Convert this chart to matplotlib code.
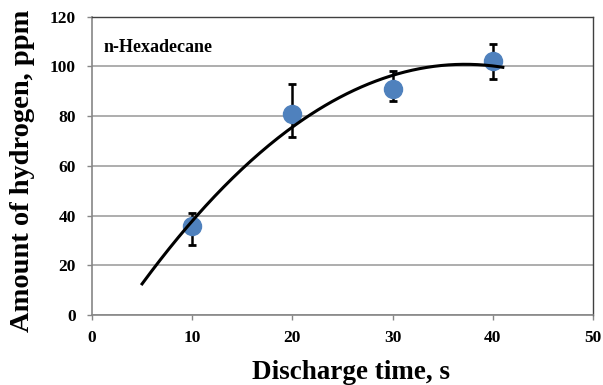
import numpy as np
import matplotlib
matplotlib.use('Agg')
import matplotlib.pyplot as plt

# data
time_s = [10, 20, 30, 40]
hydrogen_ppm = [36, 81, 91, 102]
err_low = [8, 9.5, 5, 7]
err_high = [5, 12, 7, 7]

x_ticks = [0, 10, 20, 30, 40, 50]
y_ticks = [0, 20, 40, 60, 80, 100, 120]

plt.rcParams['font.family'] = ['Liberation Serif', 'DejaVu Serif']
plt.rcParams['font.weight'] = 'bold'

fig = plt.figure(figsize=(6.03, 3.85), dpi=100)
ax = fig.add_axes([92 / 603, 70 / 385, 501 / 603, 298.3 / 385])

# second order polynomial trendline, as in the spreadsheet
coef = np.polyfit(time_s, hydrogen_ppm, 2)
xs = np.linspace(5, 41, 200)
ax.plot(xs, np.polyval(coef, xs), color='black', lw=2.2, zorder=4)

ax.errorbar(time_s, hydrogen_ppm, yerr=[err_low, err_high], fmt='o',
            color='#4F81BD', ms=13, ecolor='black', elinewidth=1.8,
            capsize=3, capthick=2, zorder=3)

ax.set_xlim(0, 50)
ax.set_ylim(0, 120)
ax.set_xticks(x_ticks)
ax.set_yticks(y_ticks)
ax.yaxis.grid(True, color='#A0A0A0', lw=1.2)
ax.set_axisbelow(True)

for side in ['left', 'bottom']:
    ax.spines[side].set_color('#868686')
    ax.spines[side].set_linewidth(1.2)
for side in ['top', 'right']:
    ax.spines[side].set_color('#404040')
    ax.spines[side].set_linewidth(1.0)

ax.tick_params(axis='both', direction='out', length=3.6, width=1,
               color='#868686', labelsize=12.5)
ax.tick_params(axis='y', pad=8)
ax.tick_params(axis='x', pad=7)
for lab in ax.get_xticklabels() + ax.get_yticklabels():
    lab.set_fontweight('bold')

ax.text(0.024, 0.882, 'n-Hexadecane', transform=ax.transAxes,
        fontsize=13, fontweight='bold', va='baseline', ha='left')

fig.text(0.582, 0.0148, 'Discharge time, s', fontsize=19.5,
         fontweight='bold', ha='center', va='baseline')
fig.text(0.0365, 0.556, 'Amount of hydrogen, ppm', fontsize=20.5,
         fontweight='bold', rotation=90, ha='center', va='center')

fig.savefig('out.png', dpi=100)
